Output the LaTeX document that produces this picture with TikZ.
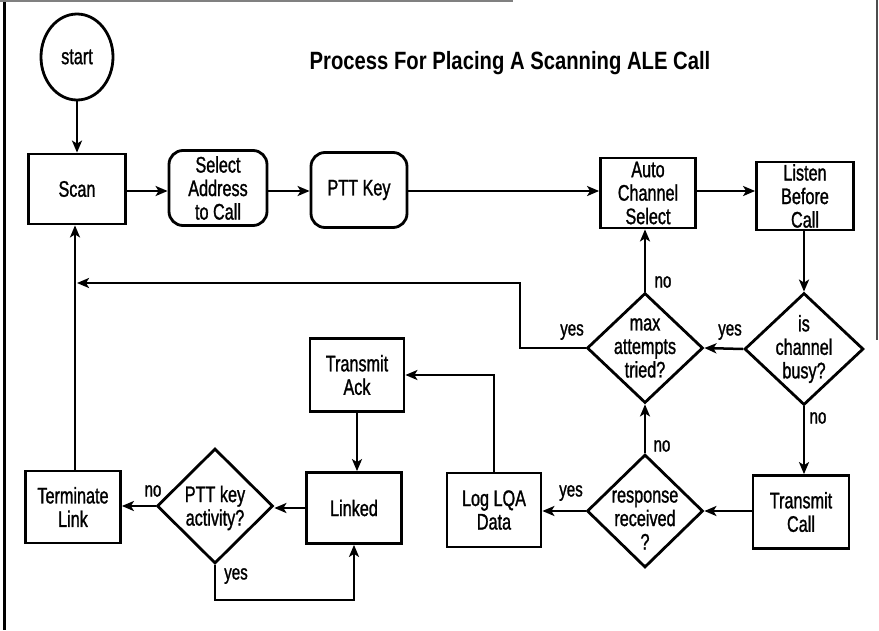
\documentclass[tikz,border=0pt]{standalone}
\usepackage{fontspec}
\setmainfont{Liberation Sans}[FakeStretch=0.72,FakeBold=1.2]
\newfontfamily\titlefont{Liberation Sans}[FakeStretch=0.81]
\usetikzlibrary{shapes.geometric,arrows.meta}
\tikzset{
  nodefont/.style={font=\fontsize{22.5}{23.5}\selectfont},
  box/.style={draw, line width=2.8pt, inner sep=0pt, align=center, nodefont},
  rbox/.style={box, rounded corners=14pt},
  dec/.style={draw, diamond, line width=2.8pt, inner sep=0pt},
  dectext/.style={align=center, inner sep=0pt, nodefont},
  lbl/.style={font=\fontsize{21}{22}\selectfont, inner sep=0pt},
  arr/.style={line width=2.5pt, -{Stealth[length=12pt,width=10pt,inset=3pt]}},
}
\begin{document}
\begin{tikzpicture}[x=1pt,y=-1pt]
\useasboundingbox (0,0) rectangle (879,630);
% page border remnants
\draw[line width=3pt] (4.5,0) -- (4.5,630);
\draw[line width=1.5pt, gray] (0,1) -- (513,1);
\draw[line width=1.5pt, black!70] (877,0) -- (877,340);
% title
\node[inner sep=0pt, font=\titlefont\bfseries\fontsize{25}{27}\selectfont] (title) at (510,63) {Process For Placing A Scanning ALE Call};
% nodes
\node[draw, ellipse, line width=2.8pt, inner sep=0pt, minimum width=72pt, minimum height=86pt, nodefont] (start) at (77,57) {start};
\node[box, minimum width=97pt, minimum height=70pt] (scan) at (77,189) {Scan};
\node[rbox, minimum width=98pt, minimum height=75pt] (select) at (218,188) {Select\\Address\\to Call};
\node[rbox, minimum width=96pt, minimum height=75pt] (ptt) at (359,190) {PTT Key};
\node[box, minimum width=95pt, minimum height=70pt] (auto) at (648,193) {Auto\\Channel\\Select};
\node[box, minimum width=97pt, minimum height=68pt] (listen) at (805,196) {Listen\\Before\\Call};
\node[dec, minimum width=119pt, minimum height=112pt] (busy) at (804,349) {};
\node[dectext] at (busy) {is\\channel\\busy?};
\node[dec, minimum width=116pt, minimum height=110pt] (max) at (645,348) {};
\node[dectext] at (max) {max\\attempts\\tried?};
\node[box, minimum width=96pt, minimum height=73pt] (tcall) at (801,512) {Transmit\\Call};
\node[dec, minimum width=116pt, minimum height=113pt] (resp) at (645,511) {};
\node[dectext] at ([yshift=-9pt]resp.center) {response\\received\\?};
\node[box, minimum width=94pt, minimum height=74pt] (log) at (494,510) {Log LQA\\Data};
\node[box, minimum width=94pt, minimum height=73pt] (ack) at (357,375) {Transmit\\Ack};
\node[box, minimum width=95pt, minimum height=71pt] (linked) at (354,508) {Linked};
\node[dec, minimum width=116pt, minimum height=115pt] (pttact) at (215,506) {};
\node[dectext] at ([yshift=-2pt]pttact.center) {PTT key\\activity?};
\node[box, minimum width=95pt, minimum height=72pt] (term) at (73,507) {Terminate\\Link};
% helper coordinates
\coordinate (row) at (0,191);
\coordinate (colL) at (75,0);
\coordinate (yesend) at (77,283);
\coordinate (bend) at (520,283);
% connectors
\draw[arr] (start) -- (scan);
\draw[arr] (scan.east |- row) -- (select.west |- row);
\draw[arr] (select.east |- row) -- (ptt.west |- row);
\draw[arr] (ptt.east |- row) -- (auto.west |- row);
\draw[arr] (auto.east |- row) -- (listen.west |- row);
\draw[arr] (listen.south -| busy.north) -- (busy.north);
\draw[arr] (busy.west) -- (max.east);
\draw[arr] (busy.south) -- (busy.south |- tcall.north);
\draw[arr] (tcall.west |- resp.east) -- (resp.east);
\draw[arr] (resp.west) -- (resp.west -| log.east);
\draw[arr] (resp.north) -- (max.south);
\draw[arr] (max.north) -- (max.north |- auto.south);
\draw[arr] (max.west) -| (bend) -- (yesend);
\draw[arr] (term.north -| colL) -- (scan.south -| colL);
\draw[arr] (log.north) |- (ack.east);
\draw[arr] (ack.south) -- (ack.south |- linked.north);
\draw[arr] (linked.west) -- (linked.west -| pttact.east);
\draw[arr] (pttact.west) -- (pttact.west -| term.east);
\draw[arr] (pttact.south) -- ++(0,35) -| (linked.south);
% labels
\node[lbl] at (730,332) {yes};
\node[lbl] at (818,418) {no};
\node[lbl] at (663,282) {no};
\node[lbl] at (572,332) {yes};
\node[lbl] at (662,446) {no};
\node[lbl] at (571,493) {yes};
\node[lbl] at (153,491) {no};
\node[lbl] at (236,576) {yes};
\end{tikzpicture}
\end{document}
